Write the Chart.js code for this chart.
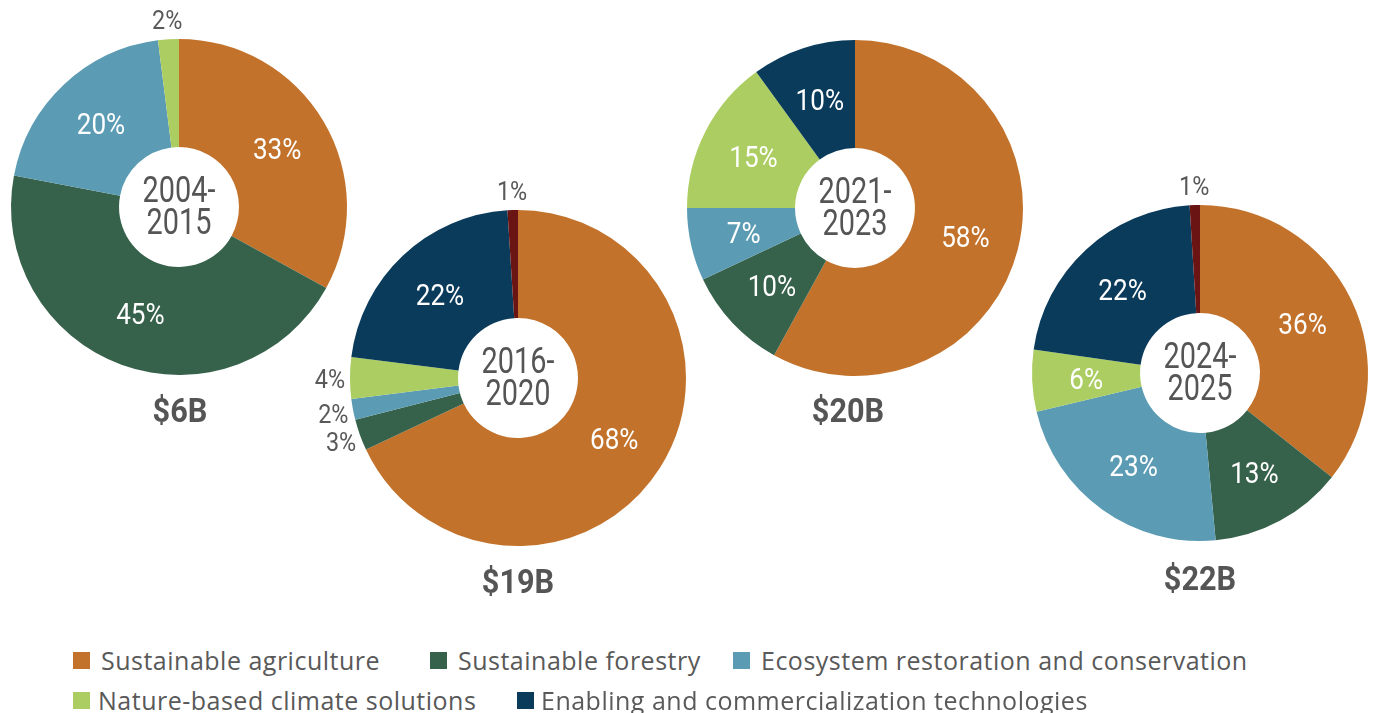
<!DOCTYPE html>
<html>
<head>
<meta charset="utf-8">
<script src="https://cdn.jsdelivr.net/npm/chart.js@4/dist/chart.umd.min.js"></script>
<style>
  html, body { margin: 0; padding: 0; width: 1373px; height: 713px; overflow: hidden; background: #fff; }
  .wrap { position: absolute; width: 440px; height: 440px; }
  .total { position: absolute; transform: translate(-50%, -50%) scaleX(0.93); font-family: Roboto, "Liberation Sans", sans-serif; font-weight: bold; font-size: 33px; color: #555555; white-space: nowrap; line-height: 1; }
  .leg { position: absolute; font-family: "Open Sans", "Noto Sans", sans-serif; font-weight: 400; font-size: 25px; letter-spacing: 0.5px; color: #595959; white-space: nowrap; line-height: 1; }
  .leg .sw { position: absolute; left: 0; width: 17px; height: 17px; }
  .leg .tx { position: absolute; transform: translateY(-50%); }
</style>
</head>
<body>
<div id="root"></div>
<script>
// ---- data ----
const categories = ['Sustainable agriculture', 'Sustainable forestry', 'Ecosystem restoration and conservation', 'Nature-based climate solutions', 'Enabling and commercialization technologies', 'Other'];
const periods = ['2004-2015', '2016-2020', '2021-2023', '2024-2025'];
const totals = ['$6B', '$19B', '$20B', '$22B'];
const values2004 = [33, 45, 20, 2, 0, 0];
const values2016 = [68, 3, 2, 4, 22, 1];
const values2021 = [58, 10, 7, 15, 10, 0];
const values2024 = [36, 13, 23, 6, 22, 1];
const legendItems = categories.slice(0, 5);

// ---- styles / layout ----
const colors = ['#C2722B', '#36614A', '#5B9CB4', '#ABCD61', '#0B3B5B', '#6B1414'];
const allValues = [values2004, values2016, values2021, values2024];
const centers = [[179, 207], [518, 378], [855, 208], [1200, 373]];
const totalPos = [[180, 410], [518, 581], [848, 410], [1200, 578]];
const SIZE = 440, PAD = 52;
const labelFont = 'Roboto, "Liberation Sans", sans-serif';

function condensedText(ctx, text, x, y, size, sx) {
  ctx.save();
  ctx.font = size + 'px ' + labelFont;
  ctx.translate(x, y);
  ctx.scale(sx, 1);
  ctx.fillText(text, 0, 0);
  ctx.restore();
}

const labelPlugin = {
  id: 'sliceLabels',
  afterDatasetsDraw(chart) {
    const ctx = chart.ctx;
    const meta = chart.getDatasetMeta(0);
    const data = chart.data.datasets[0].data;
    ctx.save();
    ctx.textAlign = 'center';
    ctx.textBaseline = 'middle';
    meta.data.forEach((arc, i) => {
      const v = data[i];
      if (!v) return;
      const p = arc.getProps(['x', 'y', 'startAngle', 'endAngle', 'innerRadius', 'outerRadius'], true);
      const mid = (p.startAngle + p.endAngle) / 2;
      let r, size;
      if (v >= 5) { r = (p.innerRadius + p.outerRadius) / 2; ctx.fillStyle = '#ffffff'; size = 29; }
      else { r = p.outerRadius + 20; ctx.fillStyle = '#595959'; size = 26; }
      condensedText(ctx, v + '%', p.x + Math.cos(mid) * r, p.y + Math.sin(mid) * r + 3, size, 0.9);
    });
    // center text
    const a = meta.data[0];
    const parts = chart.options.plugins.centerText.split('-');
    ctx.fillStyle = '#555555';
    condensedText(ctx, parts[0] + '-', a.x, a.y - 14, 37, 0.78);
    condensedText(ctx, parts[1], a.x, a.y + 18, 37, 0.78);
    ctx.restore();
  }
};

const root = document.getElementById('root');
allValues.forEach((vals, k) => {
  const wrap = document.createElement('div');
  wrap.className = 'wrap';
  wrap.style.left = (centers[k][0] - SIZE / 2) + 'px';
  wrap.style.top = (centers[k][1] - SIZE / 2) + 'px';
  const cv = document.createElement('canvas');
  wrap.appendChild(cv);
  root.appendChild(wrap);
  new Chart(cv, {
    type: 'doughnut',
    data: {
      labels: categories,
      datasets: [{ data: vals, backgroundColor: colors, borderWidth: 0 }]
    },
    options: {
      responsive: true,
      maintainAspectRatio: false,
      animation: false,
      cutout: '35.7%',
      layout: { padding: PAD },
      plugins: {
        legend: { display: false },
        tooltip: { enabled: false },
        centerText: periods[k]
      }
    },
    plugins: [labelPlugin]
  });
  const t = document.createElement('div');
  t.className = 'total';
  t.style.left = totalPos[k][0] + 'px';
  t.style.top = totalPos[k][1] + 'px';
  t.textContent = totals[k];
  root.appendChild(t);
});

// legend
const legPos = [[73, 660], [430, 660], [733, 660], [73, 700], [517, 700]];
legendItems.forEach((name, i) => {
  const d = document.createElement('div');
  d.className = 'leg';
  d.style.left = legPos[i][0] + 'px';
  d.style.top = legPos[i][1] + 'px';
  const sw = document.createElement('div');
  sw.className = 'sw';
  sw.style.background = colors[i];
  sw.style.top = '-8px';
  const tx = document.createElement('div');
  tx.className = 'tx';
  tx.style.left = (i === 3 ? 25 : (i === 4 ? 24 : 28)) + 'px';
  tx.textContent = name;
  d.appendChild(sw);
  d.appendChild(tx);
  root.appendChild(d);
});
</script>
</body>
</html>
